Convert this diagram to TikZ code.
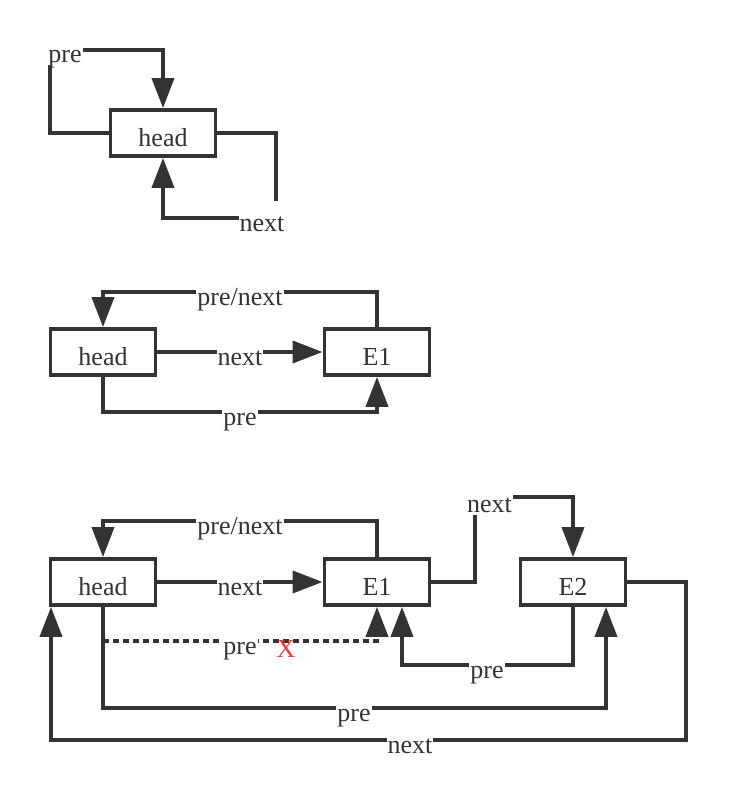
\documentclass[tikz,border=0pt]{standalone}
\usepackage{fontspec}
\setmainfont{Liberation Serif}
\usetikzlibrary{arrows.meta}
\definecolor{ink}{HTML}{333333}
\definecolor{redx}{HTML}{FF3333}
\begin{document}
\begin{tikzpicture}[x=1pt,y=-1pt,
  every node/.style={font=\fontsize{26}{31}\selectfont, text=ink},
  box/.style={draw=ink, line width=3.8pt, minimum width=105pt, minimum height=46pt, inner sep=0pt, text height=30pt, text depth=3pt, fill=white},
  edge/.style={draw=ink, line width=3.8pt},
  arr/.style={edge, -{Triangle[length=30pt,width=22pt]}},
  lbl/.style={fill=white, inner xsep=1pt, inner ysep=0pt, text height=30pt, text depth=3pt},
]
\useasboundingbox (0,0) rectangle (735,790);

% ---------- section 1 ----------
\node[box] (h1) at (163,133) {head};
\draw[arr] (h1.west) -| (50,50) -| (h1.north);
\draw[arr] (h1.east) -| (276,218) -| (h1.south);
\node[lbl] (l1a) at (65,48.5) {pre};
\node[lbl] (l1b) at (262,217.5) {next};

% ---------- section 2 ----------
\node[box] (h2) at (103,352) {head};
\node[box] (e1a) at (377,352) {E1};
\draw[arr] (h2.east) -- (e1a.west);
\draw[arr] (e1a.north) |- (103,292) -- (h2.north);
\draw[arr] (h2.south) |- (377,412) -- (e1a.south);
\node[lbl] (l2a) at (240,352) {next};
\node[lbl] (l2b) at (240,292) {pre/next};
\node[lbl] (l2c) at (240,412) {pre};

% ---------- section 3 ----------
\node[box] (h3) at (103,582) {head};
\node[box] (e1) at (377,582) {E1};
\node[box] (e2) at (573,582) {E2};
\coordinate (c1) at (402,665);
\coordinate (c2) at (606,708);
\coordinate (c3) at (51,740);
\draw[arr] (h3.east) -- (e1.west);
\draw[arr] (e1.north) |- (103,521) -- (h3.north);
\draw[arr, dash pattern=on 6pt off 4pt] (103,641) -- (377,641) -- (e1.south);
\draw[arr] (e1.east) -| (475,497) -| (e2.north);
\draw[arr] (e2.south) |- (c1) -- (c1 |- e1.south);
\draw[arr] (h3.south) |- (c2) -- (c2 |- e2.south);
\draw[arr] (e2.east) -| (686,740) -- (c3) -- (c3 |- h3.south);
\node[lbl] (l3a) at (240,582) {next};
\node[lbl] (l3b) at (240,521) {pre/next};
\node[lbl] (l3c) at (240,641) {pre};
\node[text=redx] (x3) at (286,643.5) [inner sep=0pt, text height=30pt, text depth=3pt] {X};
\node[lbl] (l3d) at (489.5,498.5) {next};
\node[lbl] (l3e) at (487,665) {pre};
\node[lbl] (l3f) at (354,708) {pre};
\node[lbl] (l3g) at (410,740) {next};
\end{tikzpicture}
\end{document}
